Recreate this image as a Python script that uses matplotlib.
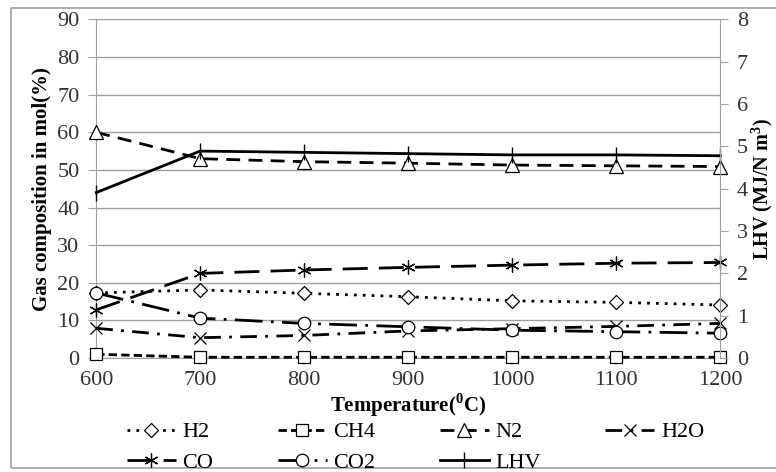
import numpy as np
import matplotlib.pyplot as plt
from matplotlib.patches import Rectangle

plt.rcParams['font.family'] = ['Liberation Serif', 'DejaVu Serif']
plt.rcParams['mathtext.fontset'] = 'custom'
plt.rcParams['mathtext.rm'] = 'Liberation Serif'
plt.rcParams['mathtext.bf'] = 'Liberation Serif:bold'

temperature = [600, 700, 800, 900, 1000, 1100, 1200]
h2 = [17.3, 18.1, 17.2, 16.3, 15.2, 14.8, 14.1]
ch4 = [1.0, 0.2, 0.2, 0.2, 0.2, 0.2, 0.2]
n2 = [60.0, 53.0, 52.2, 51.8, 51.3, 51.1, 50.9]
h2o = [7.9, 5.4, 6.0, 7.2, 7.8, 8.4, 9.2]
co = [12.8, 22.5, 23.4, 24.1, 24.7, 25.2, 25.4]
co2 = [17.3, 10.6, 9.2, 8.3, 7.4, 7.0, 6.6]
lhv = [3.91, 4.89, 4.86, 4.83, 4.80, 4.80, 4.78]

fig = plt.figure(figsize=(7.76, 4.72), dpi=100)
ax = fig.add_axes([0.124, 0.2415, 0.804, 0.7172])
ax2 = ax.twinx()

# outer frame
fig.patches.append(Rectangle((11 / 776, 4 / 472), 1.0, 460 / 472, transform=fig.transFigure,
                             fill=False, edgecolor='#a0a0a0', lw=1.2))

kw = dict(color='black', lw=2, markerfacecolor='white', markeredgecolor='black',
          markeredgewidth=0.9, clip_on=False, zorder=3)
l1, = ax.plot(temperature, h2, linestyle=(0, (1, 2.2)), marker='D', markersize=7, label='H2', **kw)
l2, = ax.plot(temperature, ch4, linestyle=(0, (3, 1.5)), marker='s', markersize=9, label='CH4', **kw)
l3, = ax.plot(temperature, n2, linestyle=(0, (5, 3)), marker='^', markersize=10, label='N2', **kw)
l4, = ax.plot(temperature, h2o, linestyle=(0, (6, 3, 1, 3)), marker='x', markersize=9, label='H2O', **kw)
l5, = ax.plot(temperature, co, linestyle=(0, (9, 4)), marker=(6, 2, 0), markersize=10, label='CO', **kw)
l6, = ax.plot(temperature, co2, linestyle=(0, (10, 3, 1, 3)), marker='o', markersize=9, label='CO2', **kw)
l7, = ax2.plot(temperature, lhv, linestyle='-', marker='|', markersize=11, label='LHV',
               color='black', lw=2, markeredgewidth=1, clip_on=False)

ax.set_xlim(600, 1200)
ax.set_ylim(0, 90)
ax.set_yticks(np.arange(0, 91, 10))
ax.set_xticks(temperature)
ax2.set_ylim(0, 8)
ax2.set_yticks(np.arange(0, 9, 1))

ax.grid(axis='y', color='#a0a0a0', lw=1)
ax.set_axisbelow(True)
for a in (ax, ax2):
    for s in a.spines.values():
        s.set_visible(False)
    a.tick_params(labelsize=16, colors='#333333', length=6, color='#a0a0a0', pad=6)
ax.spines['left'].set_visible(True)
ax.spines['bottom'].set_visible(True)
ax2.spines['right'].set_visible(True)
for s in (ax.spines['left'], ax.spines['bottom'], ax2.spines['right']):
    s.set_color('#a0a0a0')
ax.tick_params(axis='x', length=0, pad=9)

ax.set_ylabel('Gas composition in mol(%)', fontsize=15, fontweight='bold', labelpad=4)
ax2.set_ylabel(r'LHV (MJ/N m$^{\mathbf{3}}$)', fontsize=14.5, fontweight='bold', labelpad=1)
ax.set_xlabel(r'Temperature($^{\mathbf{0}}$C)', fontsize=15, fontweight='bold', labelpad=1)

# legend filled column by column, so order handles to read row-wise
order = [l1, l5, l2, l6, l3, l7, l4]
fig.legend(handles=order, loc='upper left', bbox_to_anchor=(0.152, 0.125),
           ncol=4, frameon=False, fontsize=16, handlelength=2.2, handletextpad=0.3,
           columnspacing=2.9, labelspacing=0.45, borderaxespad=0)

fig.savefig('out.png', dpi=100)
